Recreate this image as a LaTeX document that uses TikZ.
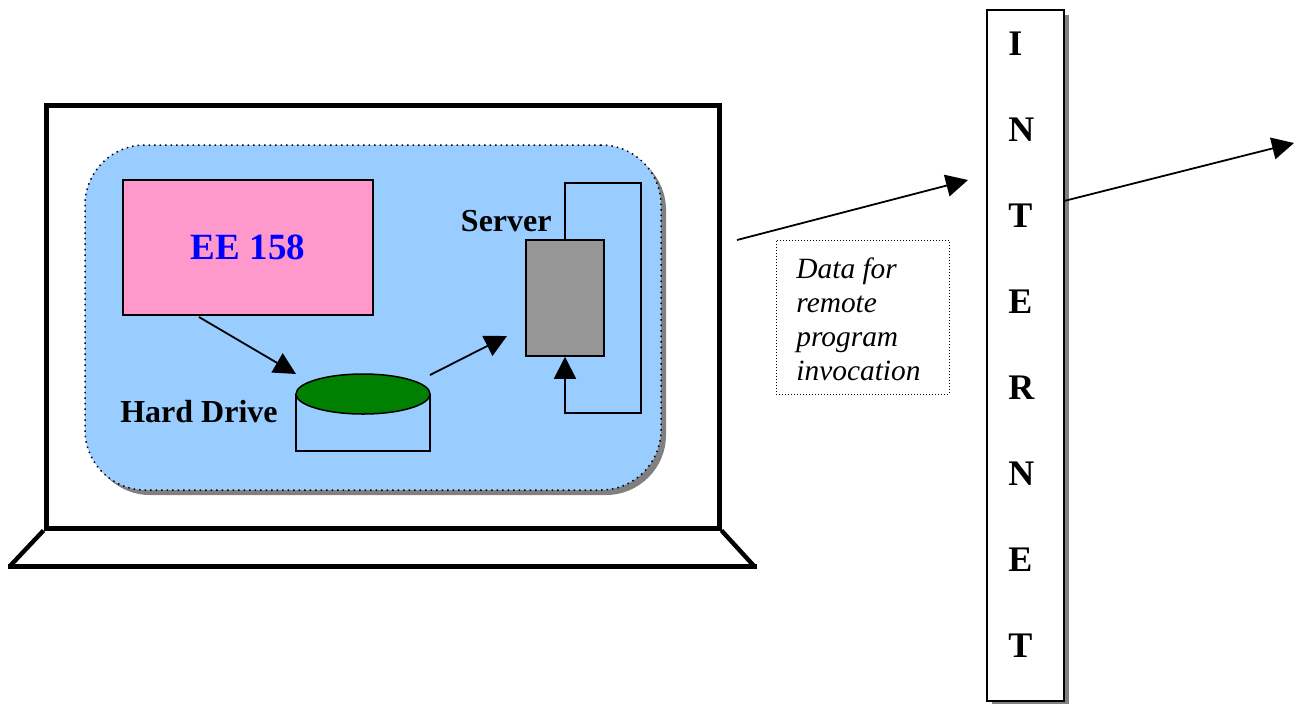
\documentclass[tikz,border=0pt]{standalone}
\usepackage{fontspec}
\setmainfont{Liberation Serif}
\usetikzlibrary{arrows.meta,shadows,shapes.geometric,positioning,calc}
\definecolor{panelblue}{HTML}{99CCFF}
\definecolor{eepink}{HTML}{FF99CC}
\definecolor{servergray}{HTML}{969696}
\definecolor{diskgreen}{HTML}{008000}
\definecolor{shadowgray}{HTML}{808080}
\begin{document}
\begin{tikzpicture}[x=0.5pt,y=-0.5pt,>={Triangle[length=11pt,width=11pt]},
    thick box/.style={draw,line width=2.5pt,inner sep=0pt},
    thin box/.style={draw,line width=0.75pt,inner sep=0pt},
    cast/.style={drop shadow={shadow xshift=2.5pt,shadow yshift=-2.5pt,fill=shadowgray,opacity=1}},
    wire/.style={line width=0.9pt,->},
    label/.style={font=\bfseries\fontsize{16}{19}\selectfont,inner sep=0pt},
    letter/.style={font=\bfseries\fontsize{18}{21}\selectfont,inner sep=0pt,anchor=west}]
    \useasboundingbox (0,0) rectangle (1296,703);
    % laptop
    \node[thick box,minimum width=336.5pt,minimum height=211.5pt] (screen) at (382.5,316.5) {};
    \coordinate (baseleft) at (10,566);
    \coordinate (baseright) at (754,566);
    \coordinate (barleft) at (8,566);
    \coordinate (barright) at (757,566);
    \draw[line width=2.2pt] (screen.south west) -- (baseleft);
    \draw[line width=2.2pt] (screen.south east) -- (baseright);
    \draw[line width=2.5pt] (barleft) -- (barright);
    % inner panel
    \node[draw,dotted,line width=0.75pt,fill=panelblue,rounded corners=30pt,cast,minimum width=288pt,minimum height=172.5pt] (panel) at (373,317.5) {};
    \node[thin box,fill=eepink,minimum width=125pt,minimum height=67.5pt,font=\bfseries\fontsize{18.5}{22}\selectfont,text=blue] (ee) at (248,247.5) {\phantom{EE 158}};
    \node[inner sep=0pt,font=\bfseries\fontsize{18.5}{22}\selectfont,text=blue] (eetext) at (248,247) {EE 158};
    % disk
    \coordinate (diskleft) at (296,394);
    \coordinate (diskright) at (430,394);
    \coordinate (diskbl) at (296,451);
    \coordinate (diskbr) at (430,451);
    \draw[line width=0.75pt] (diskleft) -- (diskbl) -- (diskbr) -- (diskright);
    \node[thin box,ellipse,fill=diskgreen,minimum width=67pt,minimum height=20pt] (disk) at (363,394) {};
    \node[label,anchor=east] (hd) at (278,412) {Hard Drive};
    % server
    \node[thin box,fill=servergray,minimum width=39pt,minimum height=58pt] (server) at (565,298) {};
    \node[label,anchor=east] (srv) at (552,221) {Server};
    \coordinate (looptr) at (641,183);
    \coordinate (looptl) at (565,183);
    \coordinate (loopbr) at (641,413);
    \coordinate (loopbl) at (565,413);
    \draw[wire] (server.north) -- (looptl) -- (looptr) -- (loopbr) -- (loopbl) -- (server.south);
    \coordinate (eeout) at (199,317);
    \coordinate (diskin) at (296,374);
    \coordinate (diskout) at (430,375);
    \coordinate (serverin) at (507,336);
    \draw[wire] (eeout) -- (diskin);
    \draw[wire] (diskout) -- (serverin);
    % internet bar
    \node[thin box,fill=white,cast,minimum width=38.5pt,minimum height=345.5pt] (net) at (1025.5,355.5) {};
    \foreach \ch [count=\i from 0] in {I,N,T,E,R,N,E,T}
        \node[letter] (l\i) at (1008,44+86*\i) {\ch};
    % data box
    \node[draw,densely dotted,line width=0.5pt,minimum width=86.5pt,minimum height=77pt,inner sep=0pt] (data) at (862.5,317) {};
    \node[inner sep=0pt,anchor=west,align=left,font=\itshape\fontsize{14.7}{17}\selectfont] (datatext) at (796,319) {Data for\\remote\\program\\invocation};
    \coordinate (lapout) at (737,240);
    \coordinate (netin) at (968,180);
    \coordinate (netout) at (1064,201);
    \coordinate (farend) at (1294,143);
    \draw[wire] (lapout) -- (netin);
    \draw[wire] (netout) -- (farend);
\end{tikzpicture}
\end{document}
